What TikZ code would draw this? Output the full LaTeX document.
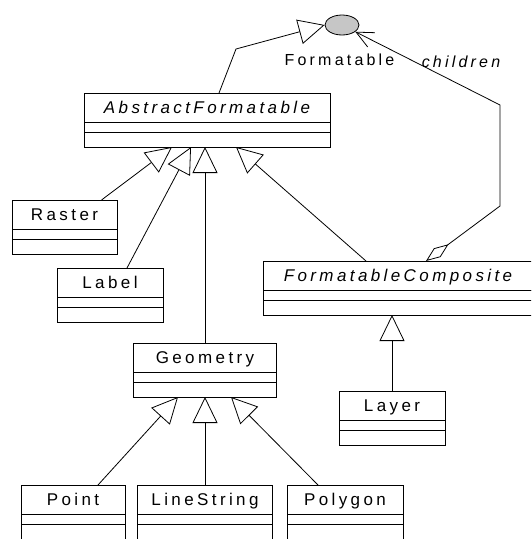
\documentclass[tikz,border=0pt]{standalone}
\usepackage{fontspec}
\newfontfamily\umlfont{Liberation Sans}[LetterSpace=20]
\usetikzlibrary{arrows.meta,shapes.geometric}

\tikzset{
  klass/.style={draw, anchor=north, outer sep=0pt, inner sep=0pt, minimum height=29pt,
    text height=12pt, text depth=0pt, font=\umlfont\fontsize{17}{20}\selectfont},
  tag/.style={anchor=base, inner sep=0pt, font=\umlfont\fontsize{16}{19}\selectfont},
  inherit/.style={-{Triangle[open, length=26pt, width=25pt]}},
  navigate/.style={{Diamond[open, length=28pt, width=11pt]}-{Straight Barb[length=17pt, width=16pt]}},
}

% name compartment, then two empty compartments below it
\newcommand{\umlclass}[5][]{%
  \node[klass, minimum width=#4pt, #1] (#2) at (#3) {#5};
  \draw (#2.south west) rectangle ++(#4,10) ++(-#4,0) rectangle ++(#4,15);
  \path (#2.south) ++(0,25) coordinate (#2-b);
}

\begin{document}
\begin{tikzpicture}[x=1pt, y=-1pt, line width=0.8pt]
  \useasboundingbox (0,0) rectangle (531,539);
  \clip (0,0) rectangle (531,539);

  % interface
  \node[draw, ellipse, fill=gray!45, minimum width=34pt, minimum height=20pt, inner sep=0pt] (formatable) at (342,25) {};
  \node[tag] (formatablename) at (339.5,65) {Formatable};
  \node[tag, font=\umlfont\fontsize{16}{19}\selectfont\itshape] (children) at (461,67) {children};

  % classes
  \umlclass{abstract}{207,93}{246}{\itshape AbstractFormatable}
  \umlclass{raster}{64.5,200}{105}{Raster}
  \umlclass{label}{110,268}{106}{Label}
  \umlclass{composite}{398,261}{270}{\itshape FormatableComposite}
  \umlclass{geometry}{205,343}{143}{Geometry}
  \umlclass{layer}{392,391}{106}{Layer}
  \umlclass{point}{73,485}{104}{Point}
  \umlclass{linestring}{205,485}{135}{LineString}
  \umlclass{polygon}{345,485}{116}{Polygon}

  % generalizations
  \draw[inherit] ([xshift=12]abstract.north) -- (236,49) -- (formatable.west);
  \draw[inherit] ([xshift=37]raster.north) -- ([xshift=-35]abstract-b);
  \draw[inherit] ([xshift=17]label.north) -- ([xshift=-16]abstract-b);
  \draw[inherit] (geometry.north) -- (geometry.north |- abstract-b);
  \draw[inherit] ([xshift=-32]composite.north) -- ([xshift=29]abstract-b);
  \draw[inherit] (layer.north) -- (layer.north |- composite-b);
  \draw[inherit] ([xshift=25]point.north) -- ([xshift=-27]geometry-b);
  \draw[inherit] (linestring.north) -- (geometry-b);
  \draw[inherit] ([xshift=-27]polygon.north) -- ([xshift=26]geometry-b);

  % aggregation
  \coordinate (whole) at (426,261);
  \draw[navigate] (whole) -- (500,206) -- (500,105) -- (formatable);
\end{tikzpicture}
\end{document}
